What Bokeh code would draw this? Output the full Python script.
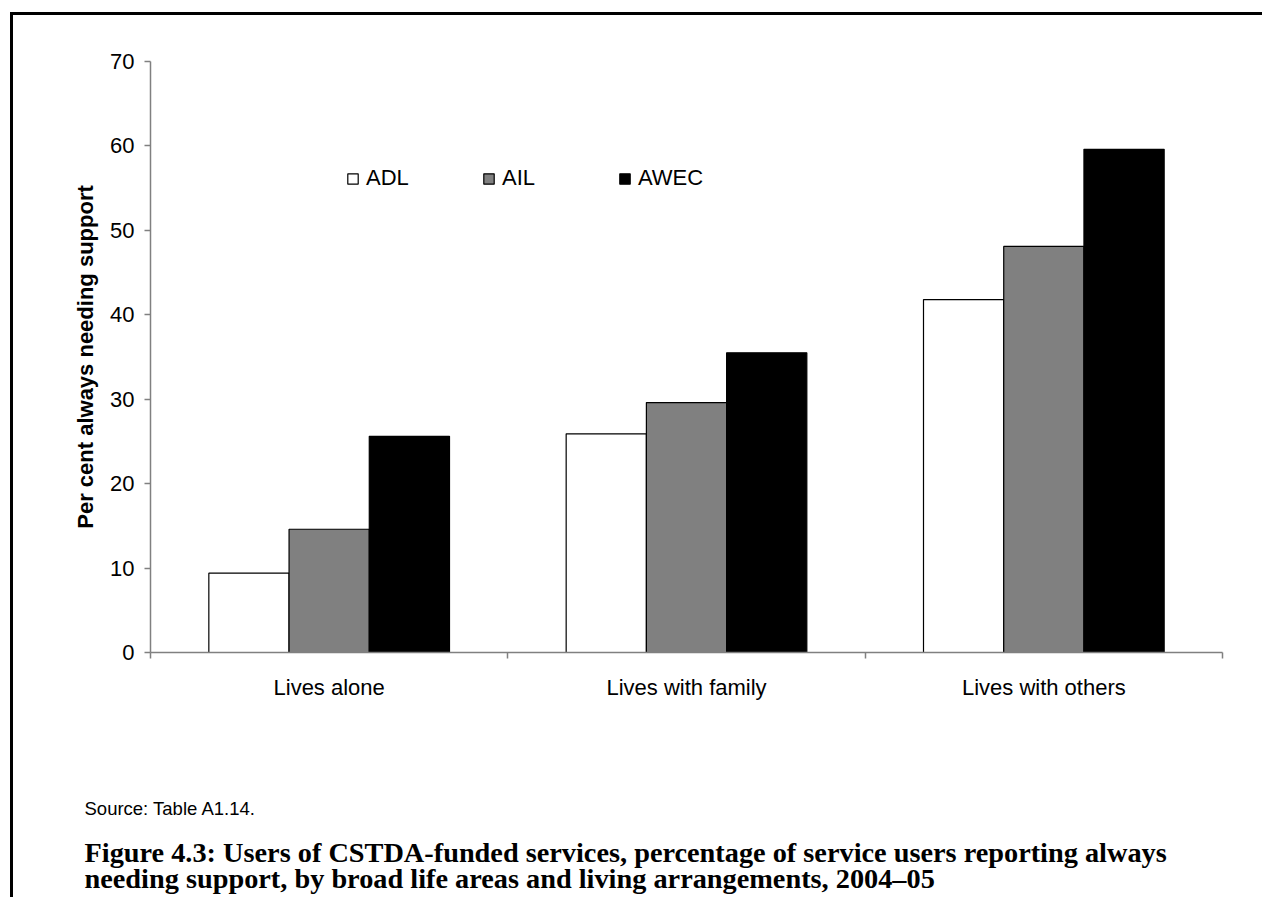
from bokeh.plotting import figure
from bokeh.models import (FactorRange, Range1d, LinearAxis, CategoricalAxis, FixedTicker,
                          Legend, LegendItem, Title, ColumnDataSource)
from bokeh.transform import dodge
from bokeh.embed import file_html
from bokeh.resources import INLINE

# ---- data ----
categories = ["Lives alone", "Lives with family", "Lives with others"]
series = ["ADL", "AIL", "AWEC"]
adl = [9.4, 25.9, 41.8]
ail = [14.6, 29.6, 48.1]
awec = [25.6, 35.5, 59.6]
y_ticks = [0, 10, 20, 30, 40, 50, 60, 70]
colors = ["#ffffff", "#808080", "#000000"]
source_text = "Source: Table A1.14."
caption = ("Figure 4.3: Users of CSTDA-funded services, percentage of service users reporting always\n"
           "needing support, by broad life areas and living arrangements, 2004\u201305")

FONT = "Liberation Sans"
SERIF = "Liberation Serif"

W, H = 1262, 897
p = figure(x_range=FactorRange(*categories, range_padding=0), y_range=Range1d(0, 70),
           width=W, height=H, output_backend="svg", toolbar_location=None,
           x_axis_location=None, y_axis_location=None,
           min_border_left=150, min_border_right=W - 1222, min_border_top=61,
           min_border_bottom=H - 652,
           styles={"box-shadow": "inset 10px 12px 0 0 #fff, inset 13px 15px 0 0 #000"})
p.grid.visible = False
p.outline_line_color = None
p.background_fill_color = "#ffffff"
p.border_fill_color = None

src = ColumnDataSource(dict(cat=categories, ADL=adl, AIL=ail, AWEC=awec))
bw = 0.2245
renderers = []
for i, (s, c) in enumerate(zip(series, colors)):
    r = p.vbar(x=dodge("cat", (i - 1) * bw, range=p.x_range), top=s, width=bw, source=src,
               fill_color=c, line_color="#000000", line_width=1.2)
    renderers.append(r)

# y axis
yax = LinearAxis(ticker=FixedTicker(ticks=y_ticks))
yax.axis_line_color = "#808080"
yax.axis_line_width = 1.5
yax.major_tick_line_color = "#808080"
yax.major_tick_line_width = 1.5
yax.major_tick_in = 0
yax.major_tick_out = 6
yax.minor_tick_line_color = None
yax.major_label_standoff = 10
yax.major_label_text_font = FONT
yax.major_label_text_font_size = "22px"
yax.major_label_text_color = "#000000"
yax.axis_label = "Per cent always needing support"
yax.axis_label_text_font = FONT
yax.axis_label_text_font_style = "bold"
yax.axis_label_text_font_size = "22px"
yax.axis_label_text_color = "#000000"
yax.axis_label_standoff = 9
p.add_layout(yax, "left")

# x axis: ticks at the category boundaries only
xtick = LinearAxis(ticker=FixedTicker(ticks=[0, 1, 2, 3]))
xtick.axis_line_color = "#808080"
xtick.axis_line_width = 1.5
xtick.major_tick_line_color = "#808080"
xtick.major_tick_line_width = 1.5
xtick.major_tick_in = 0
xtick.major_tick_out = 6
xtick.minor_tick_line_color = None
xtick.major_label_overrides = {0: " ", 1: " ", 2: " ", 3: " "}
xtick.major_label_text_font_size = "1px"
xtick.major_label_standoff = 0
p.add_layout(xtick, "below")

# x axis: category labels (its blank axis label only reserves space above the source line)
xlab = CategoricalAxis()
xlab.axis_line_color = None
xlab.major_tick_line_color = None
xlab.major_tick_out = 0
xlab.major_tick_in = 0
xlab.major_label_standoff = 12
xlab.major_label_text_font = FONT
xlab.major_label_text_font_size = "22px"
xlab.major_label_text_color = "#000000"
xlab.axis_label = "\u00a0"
xlab.axis_label_text_font_size = "1px"
xlab.axis_label_standoff = 76
p.add_layout(xlab, "below")

# legend
legend = Legend(items=[LegendItem(label=s, renderers=[r]) for s, r in zip(series, renderers)],
                orientation="horizontal", location=(196, 461),
                glyph_width=13, glyph_height=13, label_height=13, label_standoff=7,
                label_width=116, spacing=0, padding=0, margin=0,
                border_line_color=None, background_fill_alpha=0,
                label_text_font=FONT, label_text_font_size="22px", label_text_color="#000000")
p.add_layout(legend, "center")

# source line and caption
t_src = Title(text=source_text, align="left", offset=-66, standoff=27,
              text_font=FONT, text_font_style="normal", text_font_size="18.5px",
              text_color="#000000")
t_cap = Title(text=caption, align="left", offset=-66, standoff=4.4,
              text_font=SERIF, text_font_style="bold", text_font_size="28.3px",
              text_line_height=0.85, text_color="#000000")
p.add_layout(t_src, "below")
p.add_layout(t_cap, "below")

open("out.html", "w").write(file_html(p, INLINE))
